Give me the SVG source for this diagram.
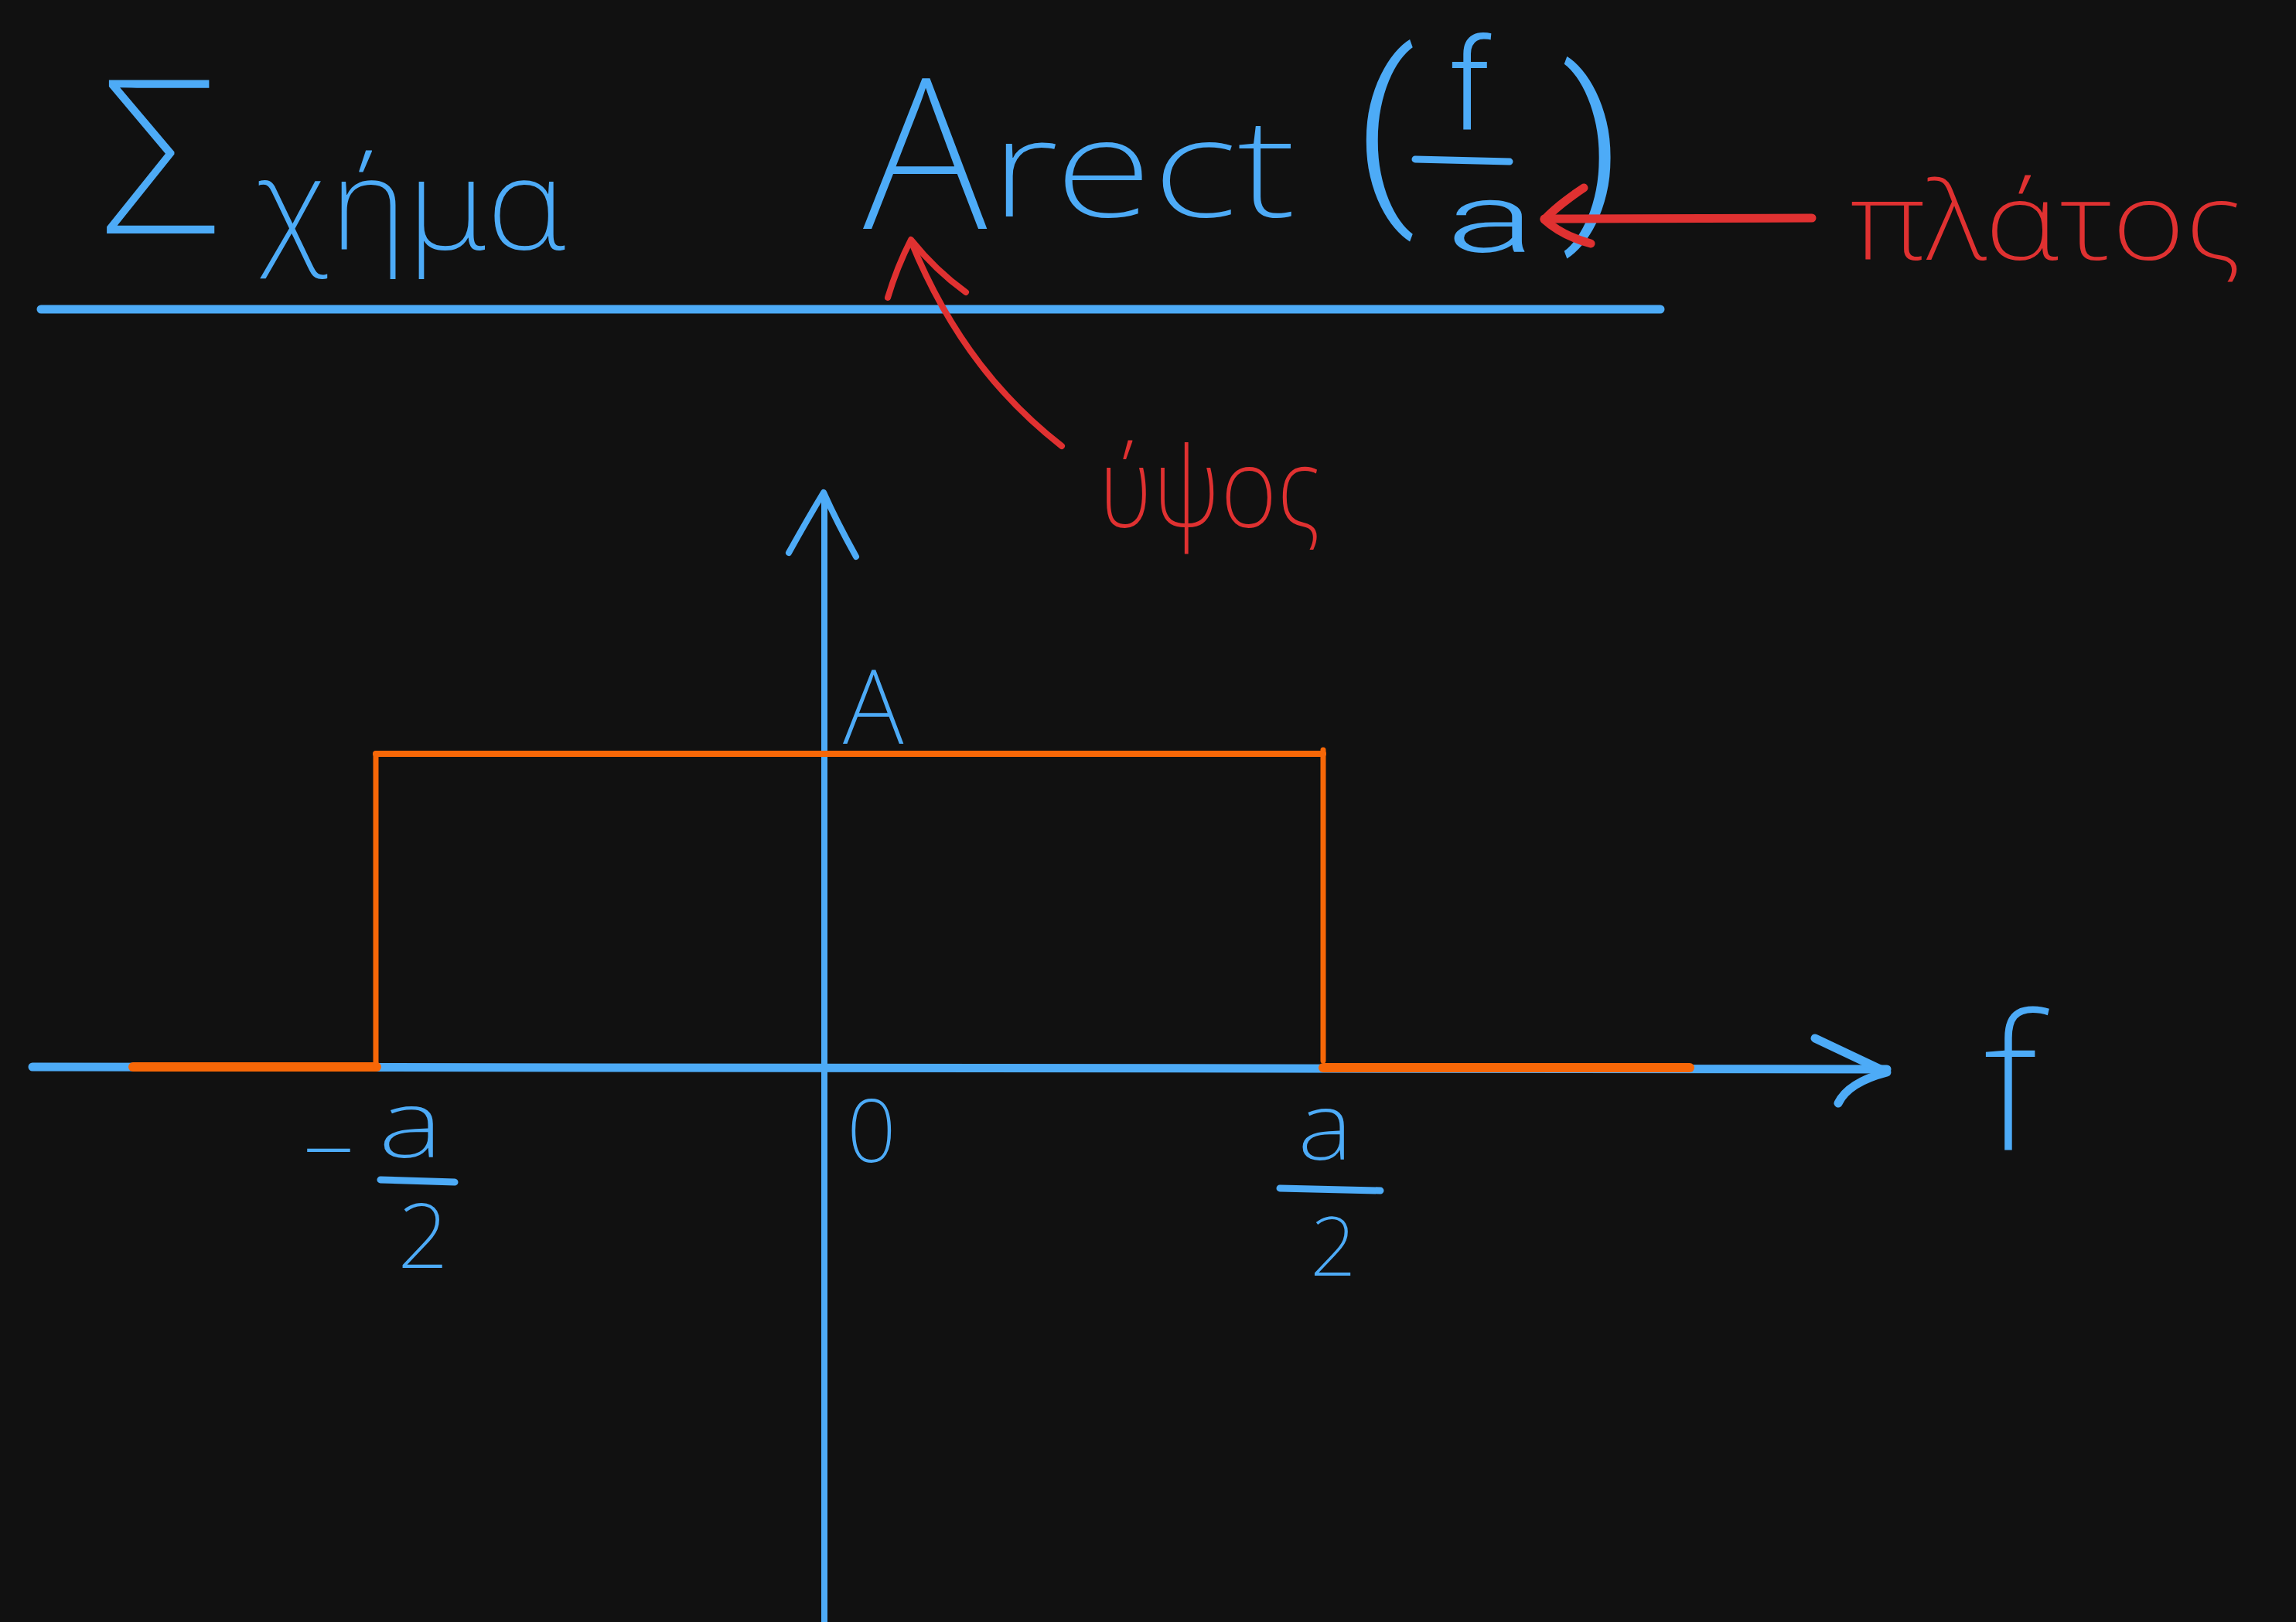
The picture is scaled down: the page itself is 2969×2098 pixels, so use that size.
<svg xmlns="http://www.w3.org/2000/svg" width="2969" height="2098" viewBox="0 0 2969 2098">
<style>
.t{font-family:"Noto Sans","DejaVu Sans",sans-serif;font-weight:200}
.p{font-family:Roboto,"Liberation Sans",sans-serif;font-weight:300}
.b{fill:#4dabf7}
.r{fill:#e03131}
.sb{stroke:#4dabf7;fill:none;stroke-linecap:round;stroke-linejoin:round}
.sr{stroke:#e03131;fill:none;stroke-linecap:round;stroke-linejoin:round}
.so{stroke:#f76707;fill:none;stroke-linecap:round;stroke-linejoin:round}
</style>
<rect width="2969" height="2098" fill="#111111"/>
<g id="title">
<text class="t b" x="128" y="302" font-size="278">Σ</text>
<text class="t b" x="330" y="322" font-size="165" textLength="405" lengthAdjust="spacingAndGlyphs">χήμα</text>
</g>
<g id="formula">
<text class="t b" x="1116" y="296" font-size="272">A</text>
<text class="t b" x="1280" y="280" font-size="178" textLength="396" lengthAdjust="spacingAndGlyphs">rect</text>
<text class="p b" x="1790" y="254" font-size="255" text-anchor="middle">(</text>
<text class="p b" x="1900" y="167" font-size="165" text-anchor="middle">f</text>
<line class="sb" x1="1830" y1="206" x2="1952" y2="209" stroke-width="9"/>
<text class="p b" x="1870" y="326" font-size="124" textLength="115" lengthAdjust="spacingAndGlyphs">a</text>
<text class="p b" x="2060" y="276" font-size="255" text-anchor="middle">)</text>
</g>
<line id="title-underline" class="sb" x1="53" y1="400" x2="2147" y2="400" stroke-width="11"/>
<g id="label-platos">
<text class="t r" x="2393" y="336" font-size="140" textLength="505" lengthAdjust="spacingAndGlyphs">πλάτος</text>
</g>
<g id="label-ypsos">
<text class="t r" x="1421" y="682" font-size="145" textLength="286" lengthAdjust="spacingAndGlyphs">ύψος</text>
</g>
<g id="axes">
<line class="sb" x1="1066" y1="640" x2="1066" y2="2110" stroke-width="8"/>
<path class="sb" d="M1020,715 Q1045,670 1065,637 Q1082,675 1107,720" stroke-width="8"/>
<line class="sb" x1="42" y1="1380" x2="2440" y2="1383" stroke-width="11"/>
<path class="sb" d="M2347,1343 Q2400,1368 2440,1387 Q2390,1400 2377,1427" stroke-width="11"/>
</g>
<g id="rect-function">
<line class="so" x1="172" y1="1380" x2="487" y2="1380" stroke-width="12"/>
<line class="so" x1="486" y1="975" x2="486" y2="1380" stroke-width="7"/>
<line class="so" x1="486" y1="975" x2="1711" y2="975" stroke-width="8"/>
<line class="so" x1="1711" y1="970" x2="1711" y2="1372" stroke-width="7"/>
<line class="so" x1="1711" y1="1381" x2="2185" y2="1381" stroke-width="12"/>
</g>
<g id="axis-labels">
<text class="t b" x="1090" y="962" font-size="133">A</text>
<text class="t b" x="1127" y="1503" font-size="112" text-anchor="middle">0</text>
<text class="t b" x="425" y="1530" font-size="120" text-anchor="middle">−</text>
<text class="t b" x="489" y="1497" font-size="122" textLength="84" lengthAdjust="spacingAndGlyphs">a</text>
<line class="sb" x1="492" y1="1526" x2="588" y2="1529" stroke-width="9"/>
<text class="t b" x="547" y="1640" font-size="116" text-anchor="middle">2</text>
<text class="t b" x="1678" y="1500" font-size="122" textLength="71" lengthAdjust="spacingAndGlyphs">a</text>
<line class="sb" x1="1655" y1="1537" x2="1785" y2="1540" stroke-width="9"/>
<text class="t b" x="1724" y="1650" font-size="105" text-anchor="middle">2</text>
<text class="t b" x="2600" y="1487" font-size="243" text-anchor="middle">f</text>
</g>
<g id="connectors">
<path class="sr" d="M1373,577 C1300,520 1230,440 1178,312" stroke-width="8"/>
<path class="sr" d="M1148,385 Q1160,345 1178,310 Q1210,350 1249,378" stroke-width="8"/>
<line class="sr" x1="2343" y1="282" x2="1997" y2="283" stroke-width="11"/>
<path class="sr" d="M2048,243 Q2015,265 1997,284 Q2020,305 2057,315" stroke-width="11"/>
</g>
</svg>
